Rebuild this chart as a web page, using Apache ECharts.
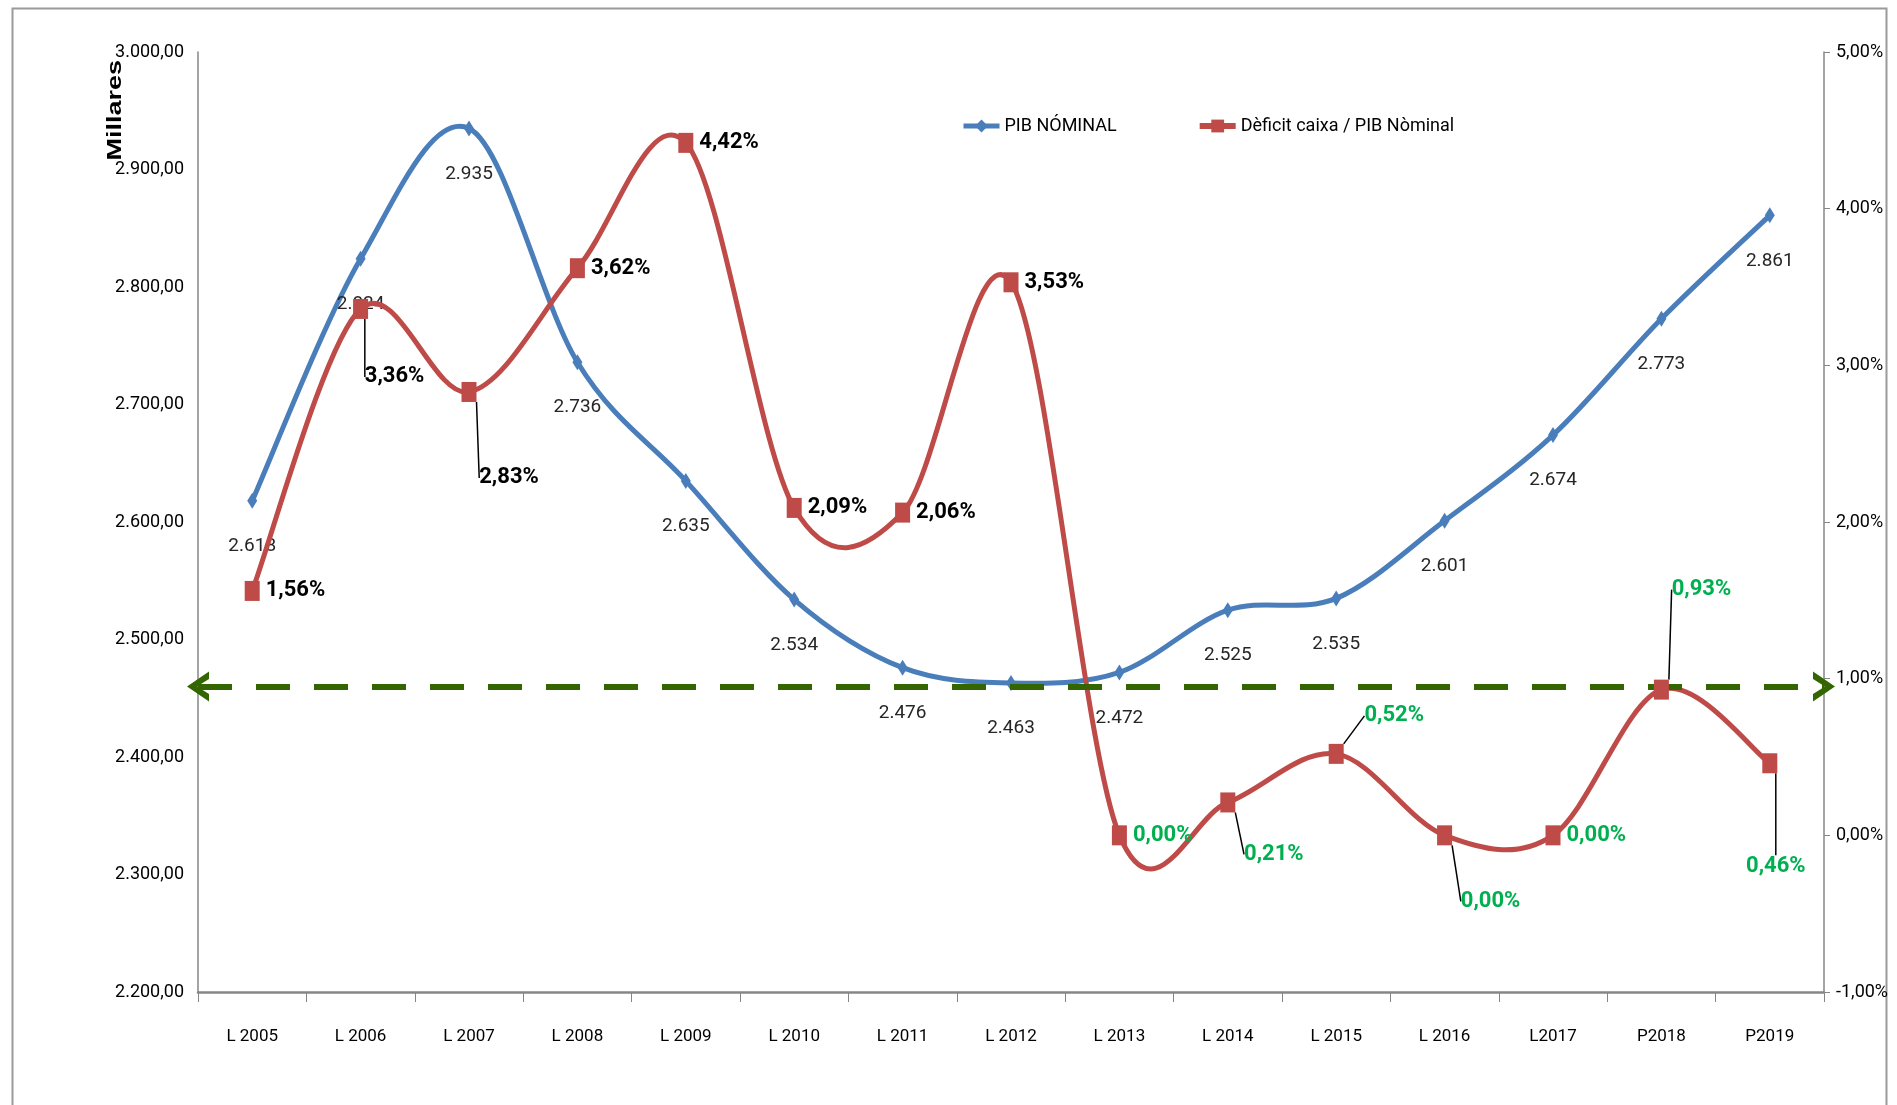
<!DOCTYPE html>
<html>
<head>
<meta charset="utf-8">
<script src="https://cdn.jsdelivr.net/npm/echarts@6/dist/echarts.min.js"></script>
<style>
html,body{margin:0;padding:0;background:#fff;}
#chart{width:1897px;height:1105px;}
</style>
</head>
<body>
<div id="chart"></div>
<script>
const categories = ['L 2005','L 2006','L 2007','L 2008','L 2009','L 2010','L 2011','L 2012','L 2013','L 2014','L 2015','L 2016','L2017','P2018','P2019'];
const pibNominal = [2618, 2824, 2935, 2736, 2635, 2534, 2476, 2463, 2472, 2525, 2535, 2601, 2674, 2773, 2861];
const deficitPct = [1.56, 3.36, 2.83, 3.62, 4.42, 2.09, 2.06, 3.53, 0.00, 0.21, 0.52, 0.00, 0.00, 0.93, 0.46];
const thresholdPct = 0.95;
const seriesNames = ['PIB NÓMINAL', 'Dèficit caixa / PIB Nòminal'];

// label layout (style only): offsets for labels with guide lines, null = placed right of point
const leaderOffsets = [null, [34, 68], [40, 86], null, null, null, null, null, null, [46, 52], [58, -38], [46, 66], null, [40, -100], [6, 103]];
const greenFrom = 8;

const BLUE = '#4a7ebb';
const RED = '#be4b48';
const FONT = '"Liberation Sans Narrow", Roboto, sans-serif';

const fmtThousands = v => Math.round(v).toString().replace(/\B(?=(\d{3})+(?!\d))/g, '.');
const fmtLeft = v => {
  const parts = v.toFixed(2).split('.');
  return parts[0].replace(/\B(?=(\d{3})+(?!\d))/g, '.') + ',' + parts[1];
};
const fmtPct = v => v.toFixed(2).replace('.', ',') + '%';

// Excel-like smoothed curve: each segment is a cubic Bezier between neighbouring
// data points (Catmull-Rom tangents), positioned through the axes with api.coord.
function smoothRenderer(values, color, width) {
  return function (params, api) {
    const i = params.dataIndex;
    const n = values.length;
    if (i >= n - 1) return null;
    const pt = k => api.coord([Math.max(0, Math.min(n - 1, k)), values[Math.max(0, Math.min(n - 1, k))]]);
    const p0 = pt(i - 1), p1 = pt(i), p2 = pt(i + 1), p3 = pt(i + 2);
    return {
      type: 'bezierCurve',
      shape: {
        x1: p1[0], y1: p1[1], x2: p2[0], y2: p2[1],
        cpx1: p1[0] + (p2[0] - p0[0]) / 6, cpy1: p1[1] + (p2[1] - p0[1]) / 6,
        cpx2: p2[0] - (p3[0] - p1[0]) / 6, cpy2: p2[1] - (p3[1] - p1[1]) / 6
      },
      style: { stroke: color, lineWidth: width, fill: null, lineCap: 'round' },
      silent: true
    };
  };
}

const deficitData = deficitPct.map((v, i) => {
  const green = i >= greenFrom;
  const item = {
    value: v,
    label: {
      color: green ? '#00b050' : '#000',
      position: leaderOffsets[i] ? 'inside' : 'right',
      distance: 6
    }
  };
  if (leaderOffsets[i]) {
    item.labelLine = { show: true, lineStyle: { color: '#000', width: 1.5 } };
  }
  return item;
});

const chart = echarts.init(document.getElementById('chart'), null, { renderer: 'canvas' });
chart.setOption({
  backgroundColor: '#fff',
  animation: false,
  graphic: [
    { type: 'rect', left: 10, top: 6, shape: { width: 1874, height: 1200 }, style: { fill: 'none', stroke: '#9a9a9a', lineWidth: 2 }, silent: true },
    { type: 'text', left: 105, top: 60, rotation: Math.PI / 2, scaleX: 1.35, style: { text: 'Millares', font: 'bold 20px "Liberation Sans", Arial, sans-serif', fill: '#000' } }
  ],
  legend: {
    top: 112,
    left: 956,
    itemGap: 80,
    itemWidth: 36,
    itemHeight: 16,
    textStyle: { fontFamily: FONT, fontSize: 18, color: '#000' },
    data: [
      { name: seriesNames[0], lineStyle: { color: BLUE, width: 5, opacity: 1 } },
      { name: seriesNames[1], lineStyle: { color: RED, width: 6, opacity: 1 } }
    ]
  },
  grid: { left: 198, right: 73, top: 52, bottom: 113 },
  xAxis: {
    type: 'category',
    data: categories,
    boundaryGap: true,
    axisLine: { onZero: false, lineStyle: { color: '#868686', width: 2.5 } },
    axisTick: { show: true, alignWithLabel: false, length: 10, lineStyle: { color: '#868686', width: 1 } },
    axisLabel: { fontFamily: FONT, fontSize: 17, color: '#000', margin: 36 }
  },
  yAxis: [
    {
      type: 'value', min: 2200, max: 3000, interval: 100,
      axisLine: { show: true, lineStyle: { color: '#868686', width: 1.5 } },
      axisTick: { show: false },
      splitLine: { show: false },
      axisLabel: { fontFamily: FONT, fontSize: 18, color: '#000', margin: 14, formatter: fmtLeft }
    },
    {
      type: 'value', min: -1, max: 5, interval: 1,
      axisLine: { show: true, lineStyle: { color: '#868686', width: 1.5 } },
      axisTick: { show: true, length: 6, lineStyle: { color: '#868686' } },
      splitLine: { show: false },
      axisLabel: { fontFamily: FONT, fontSize: 18, color: '#000', margin: 12, formatter: fmtPct }
    }
  ],
  series: [
    {
      type: 'custom',
      name: 'pibCurve',
      yAxisIndex: 0,
      data: pibNominal.map((v, i) => [i, v]),
      renderItem: smoothRenderer(pibNominal, BLUE, 5),
      z: 2,
      silent: true,
      tooltip: { show: false }
    },
    {
      name: seriesNames[0],
      type: 'line',
      yAxisIndex: 0,
      data: pibNominal,
      symbol: 'diamond',
      symbolSize: [10, 16],
      lineStyle: { color: BLUE, width: 5, opacity: 0 },
      itemStyle: { color: BLUE },
      label: {
        show: true, position: 'bottom', distance: 28,
        fontFamily: FONT, fontSize: 19, color: '#262626',
        formatter: p => fmtThousands(p.value)
      },
      z: 3
    },
    {
      type: 'custom',
      name: 'deficitCurve',
      yAxisIndex: 1,
      data: deficitPct.map((v, i) => [i, v]),
      renderItem: smoothRenderer(deficitPct, RED, 5),
      z: 4,
      silent: true,
      tooltip: { show: false }
    },
    {
      name: seriesNames[1],
      type: 'line',
      yAxisIndex: 1,
      data: deficitData,
      symbol: 'rect',
      symbolSize: [15, 20],
      lineStyle: { color: RED, width: 5, opacity: 0 },
      itemStyle: { color: RED },
      label: {
        show: true,
        fontFamily: FONT, fontSize: 22, fontWeight: 'bold',
        formatter: p => fmtPct(p.value)
      },
      labelLayout: p => {
        const o = leaderOffsets[p.dataIndex];
        return o ? { dx: o[0], dy: o[1] } : {};
      },
      markLine: {
        silent: true,
        symbol: ['path://M0,24 L12,0 L24,24 L18,24 L12,11 L6,24 Z', 'path://M0,24 L12,0 L24,24 L18,24 L12,11 L6,24 Z'],
        symbolSize: [30, 22],
        label: { show: false },
        lineStyle: { color: '#336600', width: 6, type: [34, 24], opacity: 1 },
        data: [{ yAxis: thresholdPct }]
      },
      z: 5
    }
  ]
});
</script>
</body>
</html>
